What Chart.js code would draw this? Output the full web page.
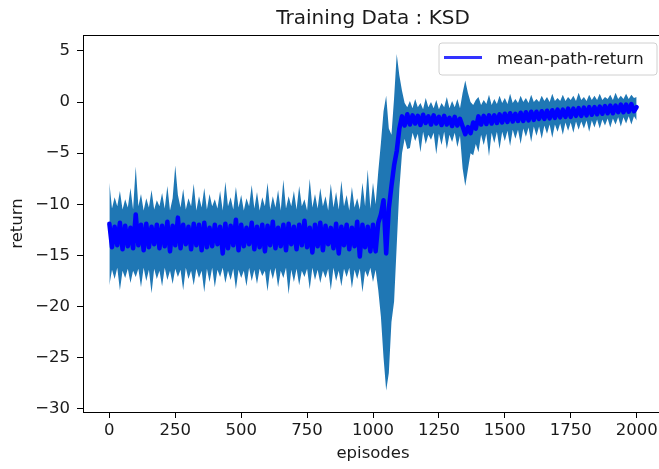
<!DOCTYPE html>
<html>
<head>
<meta charset="utf-8">
<script src="https://cdn.jsdelivr.net/npm/chart.js@4.4.1/dist/chart.umd.min.js"></script>
<style>
    html, body { margin: 0; padding: 0; background: #fff; overflow: hidden; }
    #wrap { width: 746px; height: 469px; }
</style>
</head>
<body>
<div id="wrap"><canvas id="chart" width="746" height="469"></canvas></div>
<script>
// Данные графика (шаг 10 эпизодов)
const episodes = [
    0, 10, 20, 30, 40, 50, 60, 70, 80, 90, 100, 110, 120, 130, 140, 150, 160, 170, 180, 190,
    200, 210, 220, 230, 240, 250, 260, 270, 280, 290, 300, 310, 320, 330, 340, 350, 360, 370, 380, 390,
    400, 410, 420, 430, 440, 450, 460, 470, 480, 490, 500, 510, 520, 530, 540, 550, 560, 570, 580, 590,
    600, 610, 620, 630, 640, 650, 660, 670, 680, 690, 700, 710, 720, 730, 740, 750, 760, 770, 780, 790,
    800, 810, 820, 830, 840, 850, 860, 870, 880, 890, 900, 910, 920, 930, 940, 950, 960, 970, 980, 990,
    1000, 1010, 1020, 1030, 1040, 1050, 1060, 1070, 1080, 1090, 1100, 1110, 1120, 1130, 1140, 1150, 1160, 1170, 1180, 1190,
    1200, 1210, 1220, 1230, 1240, 1250, 1260, 1270, 1280, 1290, 1300, 1310, 1320, 1330, 1340, 1350, 1360, 1370, 1380, 1390,
    1400, 1410, 1420, 1430, 1440, 1450, 1460, 1470, 1480, 1490, 1500, 1510, 1520, 1530, 1540, 1550, 1560, 1570, 1580, 1590,
    1600, 1610, 1620, 1630, 1640, 1650, 1660, 1670, 1680, 1690, 1700, 1710, 1720, 1730, 1740, 1750, 1760, 1770, 1780, 1790,
    1800, 1810, 1820, 1830, 1840, 1850, 1860, 1870, 1880, 1890, 1900, 1910, 1920, 1930, 1940, 1950, 1960, 1970, 1980, 1990,
    2000
];

const meanReturn = [
    -11.9, -14.2, -12.2, -14.0, -11.8, -14.4, -12.1, -14.1, -12.3, -14.3,
    -11.0, -14.0, -12.0, -14.5, -11.9, -14.2, -12.2, -13.9, -12.0, -14.3,
    -12.1, -14.1, -11.7, -14.6, -12.1, -14.0, -11.3, -14.3, -12.0, -13.9,
    -12.2, -14.4, -11.9, -14.0, -12.0, -14.5, -11.8, -14.2, -12.3, -14.1,
    -12.0, -13.9, -12.2, -14.8, -11.9, -14.3, -12.1, -14.0, -11.5, -14.5,
    -12.0, -14.1, -12.3, -13.9, -11.8, -14.4, -12.2, -14.2, -12.0, -14.6,
    -12.1, -14.0, -11.7, -14.3, -12.3, -14.1, -12.0, -14.5, -11.9, -13.9,
    -12.2, -14.4, -12.0, -14.0, -11.6, -14.2, -12.3, -14.7, -12.0, -14.1,
    -11.8, -14.5, -12.1, -13.9, -12.3, -14.3, -11.9, -14.8, -12.2, -14.0,
    -12.0, -14.4, -12.3, -14.1, -11.7, -15.1, -12.0, -14.2, -12.2, -14.6,
    -12.0, -14.6, -11.8, -11.0, -9.6, -14.8, -10.4, -8.2, -6.2, -4.8,
    -2.6, -1.4, -2.3, -1.2,
    -2.2, -1.3, -2.1, -1.35, -2.25, -1.25, -2.05, -1.4, -2.2, -1.3,
    -2.1, -1.45, -2.25, -1.35, -2.2, -1.55, -2.35, -1.45, -2.3, -1.65,
    -2.4, -3.15, -2.45, -3.05, -2.0, -2.6,
    -1.4, -2.2, -1.35, -2.15, -1.3, -2.1, -1.3, -2.05, -1.2, -2.0,
    -1.15, -1.95, -1.1, -1.9, -1.15, -1.85, -1.05, -1.85, -1.0, -1.8,
    -0.95, -1.75, -0.95, -1.65, -0.9, -1.65, -0.85, -1.6, -0.8, -1.55,
    -0.75, -1.5, -0.75, -1.45, -0.65, -1.45, -0.65, -1.35, -0.6, -1.35,
    -0.55, -1.3, -0.5, -1.25, -0.5, -1.2, -0.45, -1.15, -0.4, -1.1,
    -0.35, -1.1, -0.35, -1.0, -0.25, -1.0, -0.25, -0.95, -0.2, -0.9,
    -0.5
];

const upperReturn = [
    -7.9, -10.4, -9.3, -10.2, -8.7, -10.5, -9.5, -10.3, -8.4, -10.5,
    -6.3, -10.2, -9.0, -10.6, -9.4, -10.3, -8.6, -10.5, -9.6, -10.2,
    -8.9, -10.4, -8.2, -10.6, -9.4, -6.2, -9.1, -10.3, -8.5, -10.5,
    -9.4, -10.2, -8.0, -10.6, -9.2, -10.3, -8.4, -10.5, -9.0, -10.2,
    -9.5, -10.4, -8.7, -10.6, -7.8, -10.2, -9.3, -10.5, -8.3, -10.3,
    -9.1, -10.6, -9.4, -10.2, -8.1, -10.4, -8.8, -10.6, -9.3, -10.2,
    -7.9, -10.5, -9.2, -10.3, -8.6, -10.6, -7.6, -10.4, -9.2, -10.2,
    -8.7, -10.5, -8.2, -10.2, -9.5, -10.6, -7.5, -10.3, -9.0, -10.4,
    -8.4, -10.2, -9.2, -10.6, -8.0, -10.3, -8.8, -10.5, -7.7, -10.2,
    -9.1, -10.6, -8.3, -10.3, -9.4, -10.5, -7.9, -10.2, -6.6, -10.4,
    -7.9, -10.0, -6.8, -4.0, -0.9, 0.6, -2.6, -3.2, 0.4, 4.7,
    2.6, 1.1, -0.1, -0.5,
    0.1, -0.6, 0.3, -0.5, -0.1, -0.7, 0.4, -0.5, 0.0, -0.6,
    0.2, -0.7, -0.1, -0.5, 0.5, -0.6, 0.1, -0.5, 0.3, -0.6,
    0.9, 2.1, 0.9, 0.0, -0.3, 0.2,
    0.5, -0.3, 0.2, -0.2, 0.7, -0.3, 0.3, -0.2, 0.6, -0.1,
    0.4, -0.2, 0.8, -0.1, 0.3, -0.1, 0.6, 0.0, 0.4, -0.1,
    0.7, 0.0, 0.3, 0.0, 0.6, 0.1, 0.5, 0.0, 0.8, 0.1,
    0.4, 0.1, 0.7, 0.1, 0.5, 0.2, 0.6, 0.1, 0.9, 0.2,
    0.5, 0.1, 0.7, 0.2, 0.6, 0.2, 0.8, 0.2, 0.5, 0.3,
    0.7, 0.2, 0.9, 0.3, 0.6, 0.3, 0.8, 0.3, 0.7, 0.4,
    0.5
];

const lowerReturn = [
    -17.9, -16.4, -17.3, -16.2, -18.4, -16.5, -17.2, -16.3, -17.7, -16.5,
    -17.1, -16.3, -18.1, -16.2, -17.5, -16.4, -18.7, -16.3, -17.3, -16.5,
    -18.0, -16.2, -17.4, -16.5, -17.8, -16.3, -17.1, -16.4, -18.4, -16.2,
    -17.3, -16.5, -17.9, -16.3, -17.2, -16.5, -18.6, -16.3, -17.6, -16.2,
    -18.1, -16.4, -17.1, -16.2, -17.7, -16.5, -17.4, -16.3, -18.3, -16.4,
    -17.2, -16.5, -18.0, -16.2, -17.5, -16.4, -17.8, -16.3, -17.0, -16.5,
    -18.5, -16.3, -17.3, -16.2, -18.1, -16.5, -17.2, -16.2, -18.8, -16.4,
    -17.6, -16.3, -17.9, -16.5, -17.1, -16.3, -18.3, -16.2, -17.4, -16.4,
    -17.7, -16.5, -17.2, -16.3, -18.4, -16.2, -17.5, -16.5, -18.0, -16.3,
    -17.1, -16.2, -18.2, -16.4, -17.3, -16.3, -18.6, -16.5, -17.1, -16.2,
    -17.6, -16.4, -18.4, -21.0, -25.0, -28.2, -26.5, -21.5, -19.5, -14.0,
    -8.5, -5.0, -3.6, -4.6,
    -4.5, -3.0, -3.8, -3.1, -4.9, -2.9, -4.1, -3.2, -3.7, -3.0,
    -5.1, -3.1, -4.2, -2.9, -4.6, -3.2, -3.9, -3.0, -4.4, -3.3,
    -6.5, -8.2, -6.6, -5.0, -5.2, -4.1,
    -4.9, -3.2, -4.2, -3.1, -5.3, -3.0, -4.0, -2.9, -4.6, -2.9,
    -3.8, -2.8, -4.3, -2.7, -3.6, -2.7, -4.1, -2.6, -3.4, -2.5,
    -3.9, -2.4, -3.3, -2.4, -3.6, -2.3, -3.1, -2.2, -3.5, -2.2,
    -2.9, -2.1, -3.2, -2.0, -2.8, -2.0, -3.0, -1.9, -2.7, -1.9,
    -2.6, -1.8, -2.9, -1.8, -2.5, -1.7, -2.6, -1.7, -2.3, -1.6,
    -2.5, -1.6, -2.2, -1.5, -2.4, -1.5, -2.1, -1.4, -2.2, -1.4,
    -1.8
];

const xTicks = [0, 250, 500, 750, 1000, 1250, 1500, 1750, 2000];
const yTicks = [-30, -25, -20, -15, -10, -5, 0, 5];

const titleText = 'Training Data : KSD';
const legendText = 'mean-path-return';

// Склейка x/y в точки для линейной оси
function toPoints(values) {
    return values.map((v, i) => ({ x: episodes[i], y: v }));
}

// Рамка, заголовок и легенда как в matplotlib
const mplDecor = {
    id: 'mplDecor',
    afterDraw(chart) {
        const ctx = chart.ctx;
        const a = chart.chartArea;
        ctx.save();

        ctx.strokeStyle = '#000';
        ctx.lineWidth = 1;
        ctx.strokeRect(Math.round(a.left) + 0.5, Math.round(a.top) + 0.5,
            Math.round(a.right - a.left), Math.round(a.bottom - a.top));

        ctx.fillStyle = '#1a1a1a';
        ctx.font = '20px "DejaVu Sans"';
        ctx.textAlign = 'center';
        ctx.textBaseline = 'alphabetic';
        ctx.fillText(titleText, (a.left + a.right) / 2, 24);

        // легенда
        let bx = 439, by = 43, bw = 218, bh = 32, r = 3;
        ctx.beginPath();
        ctx.moveTo(bx + r, by);
        ctx.arcTo(bx + bw, by, bx + bw, by + bh, r);
        ctx.arcTo(bx + bw, by + bh, bx, by + bh, r);
        ctx.arcTo(bx, by + bh, bx, by, r);
        ctx.arcTo(bx, by, bx + bw, by, r);
        ctx.closePath();
        ctx.fillStyle = 'rgba(255,255,255,0.8)';
        ctx.fill();
        ctx.strokeStyle = '#d0d0d0';
        ctx.stroke();

        ctx.beginPath();
        ctx.moveTo(444, 57.5);
        ctx.lineTo(482, 57.5);
        ctx.strokeStyle = 'rgba(0,0,255,0.8)';
        ctx.lineWidth = 3;
        ctx.stroke();

        ctx.fillStyle = '#1a1a1a';
        ctx.font = '16.5px "DejaVu Sans"';
        ctx.textAlign = 'left';
        ctx.fillText(legendText, 497, 64);

        ctx.restore();
    }
};

Chart.defaults.font.family = '"DejaVu Sans"';
Chart.defaults.font.size = 16.5;
Chart.defaults.color = '#1a1a1a';

new Chart(document.getElementById('chart'), {
    type: 'line',
    data: {
        datasets: [
            {
                label: 'upper',
                data: toPoints(upperReturn),
                borderWidth: 0,
                borderColor: 'rgba(0,0,0,0)',
                backgroundColor: '#1f77b4',
                pointRadius: 0,
                fill: '+1',
                order: 2
            },
            {
                label: 'lower',
                data: toPoints(lowerReturn),
                borderWidth: 0,
                borderColor: 'rgba(0,0,0,0)',
                backgroundColor: '#1f77b4',
                pointRadius: 0,
                fill: false,
                order: 3
            },
            {
                label: legendText,
                data: toPoints(meanReturn),
                borderWidth: 4.5,
                borderColor: '#0000ff',
                borderJoinStyle: 'round',
                borderCapStyle: 'round',
                pointRadius: 0,
                fill: false,
                order: 0
            }
        ]
    },
    options: {
        responsive: false,
        animation: false,
        events: [],
        layout: {
            padding: { top: 35, right: 83, left: 0, bottom: 0 }
        },
        plugins: {
            legend: { display: false },
            title: { display: false },
            tooltip: { enabled: false }
        },
        scales: {
            x: {
                type: 'linear',
                min: -100,
                max: 2100,
                afterFit: function (scale) { scale.height = 57; },
                afterBuildTicks: function (axis) {
                    axis.ticks = xTicks.map(v => ({ value: v }));
                },
                border: { display: false },
                grid: {
                    display: true,
                    drawOnChartArea: false,
                    drawTicks: true,
                    tickLength: 6,
                    color: '#000'
                },
                ticks: {
                    padding: 3,
                    maxRotation: 0,
                    autoSkip: false,
                    callback: v => String(v)
                },
                title: {
                    display: true,
                    text: 'episodes',
                    padding: { top: 0, bottom: 5 }
                }
            },
            y: {
                type: 'linear',
                min: -30.3,
                max: 6.55,
                afterFit: function (scale) { scale.width = 83; },
                afterBuildTicks: function (axis) {
                    axis.ticks = yTicks.map(v => ({ value: v }));
                },
                border: { display: false },
                grid: {
                    display: true,
                    drawOnChartArea: false,
                    drawTicks: true,
                    tickLength: 6,
                    color: '#000'
                },
                ticks: {
                    padding: 7,
                    autoSkip: false,
                    callback: v => (v < 0 ? '\u2212' + Math.abs(v) : String(v))
                },
                title: {
                    display: true,
                    text: 'return',
                    padding: { top: 8, bottom: 0 }
                }
            }
        }
    },
    plugins: [mplDecor]
});
</script>
</body>
</html>
